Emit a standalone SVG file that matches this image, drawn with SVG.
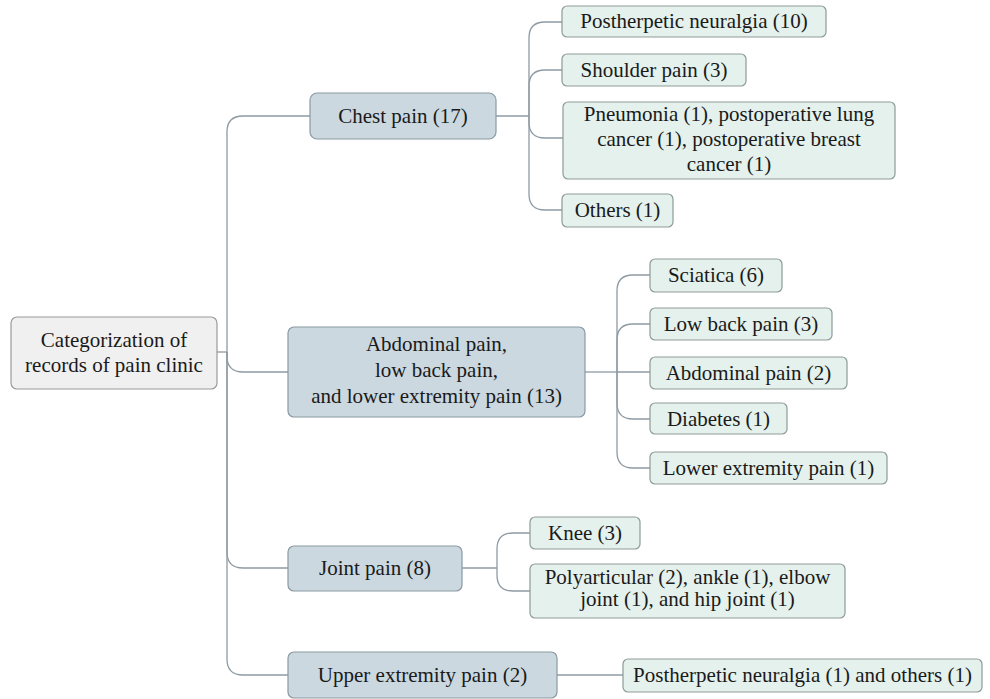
<svg xmlns="http://www.w3.org/2000/svg" width="990" height="699" viewBox="0 0 990 699">
<style>
.c{fill:none;stroke:#8e9ba3;stroke-width:1.3}
.root{fill:#f0f0f0;stroke:#9a9a9a;stroke-width:1.2}
.main{fill:#cbd8df;stroke:#8b99a2;stroke-width:1.2}
.leaf{fill:#e4f1ec;stroke:#8e9b97;stroke-width:1.2}
text{font-family:"Liberation Serif","Times New Roman",serif;font-size:21px;fill:#1a1a1a;text-anchor:middle}
</style>
<rect width="990" height="699" fill="#ffffff"/>
<g id="connectors">
<path class="c" d="M217,352 H227"/>
<path class="c" d="M227,352 V132 Q227,116 243,116 H310"/>
<path class="c" d="M227,352 V356 Q227,372 243,372 H288"/>
<path class="c" d="M227,352 V552 Q227,568 243,568 H288"/>
<path class="c" d="M227,352 V659 Q227,675 243,675 H288"/>
<path class="c" d="M496,116 H529"/>
<path class="c" d="M529,116 V38 Q529,22 545,22 H562"/>
<path class="c" d="M529,116 V86 Q529,70 545,70 H562"/>
<path class="c" d="M529,116 V122 Q529,138 545,138 H563"/>
<path class="c" d="M529,116 V194 Q529,210 545,210 H562"/>
<path class="c" d="M585,372 H617"/>
<path class="c" d="M617,372 V291 Q617,275 633,275 H650"/>
<path class="c" d="M617,372 V340 Q617,324 633,324 H650"/>
<path class="c" d="M617,372 H650"/>
<path class="c" d="M617,372 V403 Q617,419 633,419 H650"/>
<path class="c" d="M617,372 V452 Q617,468 633,468 H650"/>
<path class="c" d="M462,568 H497"/>
<path class="c" d="M497,568 V549 Q497,533 513,533 H530"/>
<path class="c" d="M497,568 V575 Q497,591 513,591 H530"/>
<path class="c" d="M557,675 H623"/>
</g>
<g id="root">
<rect class="root" x="11" y="317" width="206" height="72" rx="6"/>
<text x="114" y="347">Categorization of</text>
<text x="114" y="372">records of pain clinic</text>
</g>
<g id="chest">
<rect class="main" x="310" y="93" width="186" height="46" rx="7"/>
<text x="403" y="123">Chest pain (17)</text>
</g>
<g id="abdominal">
<rect class="main" x="288" y="327" width="297" height="90" rx="6"/>
<text x="436.5" y="351">Abdominal pain,</text>
<text x="436.5" y="377">low back pain,</text>
<text x="436.5" y="403">and lower extremity pain (13)</text>
</g>
<g id="joint">
<rect class="main" x="288" y="546" width="174" height="45" rx="6"/>
<text x="375" y="575">Joint pain (8)</text>
</g>
<g id="upper">
<rect class="main" x="288" y="652" width="269" height="46" rx="6"/>
<text x="422.5" y="682">Upper extremity pain (2)</text>
</g>
<g id="postherpetic10">
<rect class="leaf" x="562" y="6" width="264" height="31" rx="5"/>
<text x="694" y="28">Postherpetic neuralgia (10)</text>
</g>
<g id="shoulder">
<rect class="leaf" x="562" y="54" width="184" height="32" rx="5"/>
<text x="654" y="77">Shoulder pain (3)</text>
</g>
<g id="pneumonia">
<rect class="leaf" x="563" y="102" width="332" height="77" rx="5"/>
<text x="729" y="121">Pneumonia (1), postoperative lung</text>
<text x="729" y="146">cancer (1), postoperative breast</text>
<text x="729" y="171">cancer (1)</text>
</g>
<g id="others">
<rect class="leaf" x="562" y="194" width="111" height="33" rx="5"/>
<text x="617.5" y="217">Others (1)</text>
</g>
<g id="sciatica">
<rect class="leaf" x="650" y="259" width="132" height="33" rx="5"/>
<text x="716" y="282">Sciatica (6)</text>
</g>
<g id="lowback">
<rect class="leaf" x="650" y="308" width="182" height="32" rx="5"/>
<text x="741" y="331">Low back pain (3)</text>
</g>
<g id="abdominal2">
<rect class="leaf" x="650" y="357" width="197" height="32" rx="5"/>
<text x="748.5" y="380">Abdominal pain (2)</text>
</g>
<g id="diabetes">
<rect class="leaf" x="650" y="403" width="137" height="31" rx="5"/>
<text x="718.5" y="426">Diabetes (1)</text>
</g>
<g id="lowerext">
<rect class="leaf" x="650" y="452" width="237" height="32" rx="5"/>
<text x="768.5" y="475">Lower extremity pain (1)</text>
</g>
<g id="knee">
<rect class="leaf" x="530" y="517" width="110" height="32" rx="5"/>
<text x="585" y="540">Knee (3)</text>
</g>
<g id="polyarticular">
<rect class="leaf" x="530" y="564" width="315" height="54" rx="5"/>
<text x="687.5" y="584">Polyarticular (2), ankle (1), elbow</text>
<text x="687.5" y="606">joint (1), and hip joint (1)</text>
</g>
<g id="postherpetic1">
<rect class="leaf" x="623" y="659" width="359" height="33" rx="5"/>
<text x="802.5" y="682">Postherpetic neuralgia (1) and others (1)</text>
</g>
</svg>
